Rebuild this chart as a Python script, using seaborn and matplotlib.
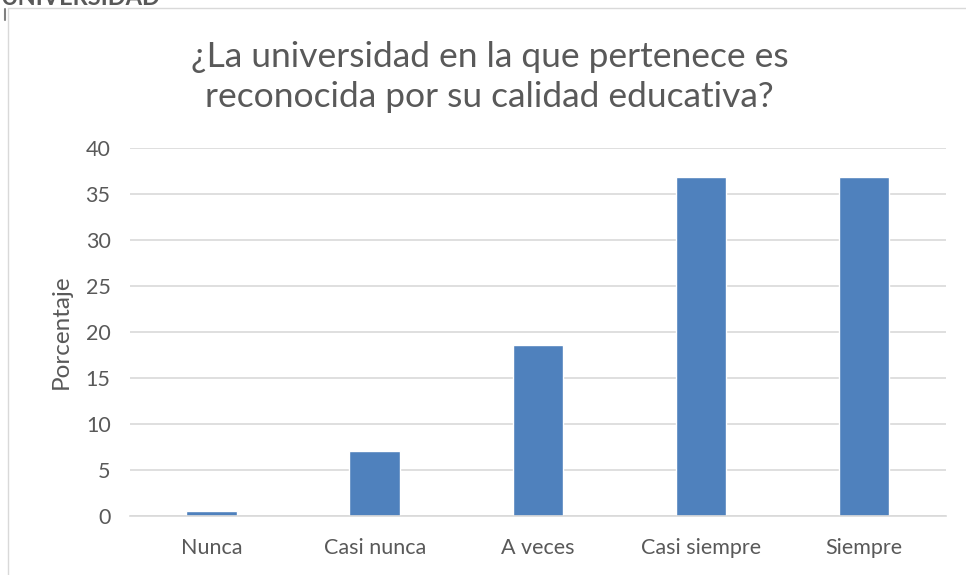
import pandas as pd
import seaborn as sns
import matplotlib.pyplot as plt

categorias = ["Nunca", "Casi nunca", "A veces", "Casi siempre", "Siempre"]
porcentajes = [0.5, 7.1, 18.6, 36.9, 36.9]
y_ticks = [0, 5, 10, 15, 20, 25, 30, 35, 40]

df = pd.DataFrame({"Respuesta": categorias, "Porcentaje": porcentajes})

sns.set_style("white")
plt.rcParams['font.family'] = ['Lato', 'DejaVu Sans']
text_color = "#595959"

fig = plt.figure(figsize=(9.66, 5.75), dpi=100)
ax = fig.add_axes([0.1346, 0.1026, 0.8444, 0.64])

sns.barplot(ax=ax, data=df, x="Respuesta", y="Porcentaje", color="#4F81BD",
            width=0.31, saturation=1)

ax.set_ylim(0, 40)
ax.set_yticks(y_ticks)
ax.set_xlim(-0.5, len(categorias) - 0.5)
ax.grid(axis='y', color="#d9d9d9", linewidth=1.2)
ax.set_axisbelow(True)
for s in ["top", "right", "left"]:
    ax.spines[s].set_visible(False)
ax.spines["bottom"].set_color("#d9d9d9")
ax.spines["bottom"].set_linewidth(1.2)
ax.tick_params(axis='both', length=0, labelsize=15.5, colors=text_color, pad=14)
ax.tick_params(axis='x', pad=16)
ax.set_xlabel("")
ax.set_ylabel("Porcentaje", fontsize=17.5, color=text_color, labelpad=10)

fig.text(0.507, 0.866, "¿La universidad en la que pertenece es\nreconocida por su calidad educativa?",
         ha='center', va='center', fontsize=25.5, color=text_color, linespacing=1.3)

# borde del area del grafico y texto recortado de arriba
fig.add_artist(plt.Line2D([0.0083, 0.0083], [0.0, 0.986], color="#d9d9d9", linewidth=1))
fig.add_artist(plt.Line2D([0.0083, 1.0], [0.986, 0.986], color="#d9d9d9", linewidth=1))
fig.add_artist(plt.Line2D([0.0052, 0.0052], [0.965, 0.985], color="#7f7f7f", linewidth=1.5))
fig.text(0.0, 1.005, "UNIVERSIDAD", ha='left', va='center', fontsize=17, color=text_color,
         fontweight='bold')

fig.savefig("out.png", dpi=100)
